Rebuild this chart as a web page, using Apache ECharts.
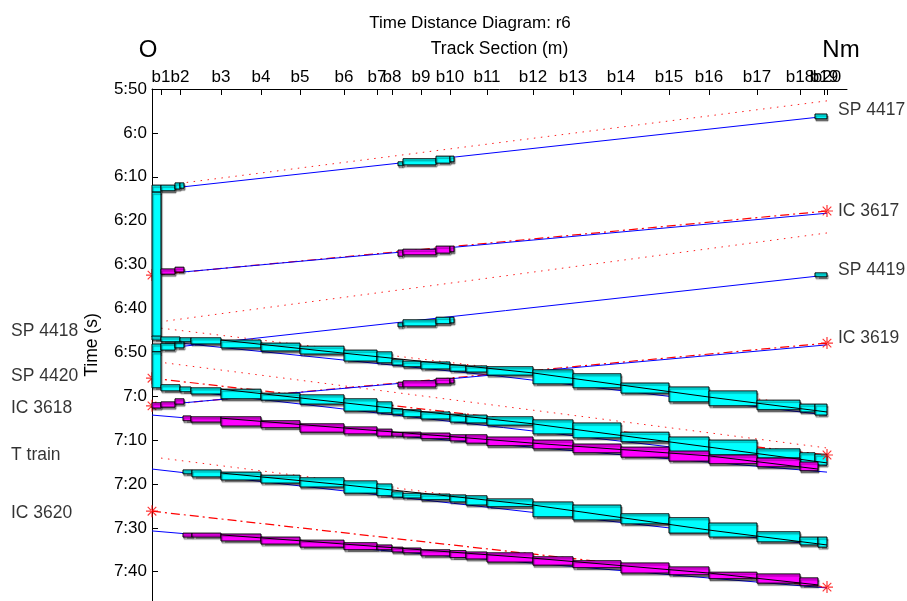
<!DOCTYPE html>
<html><head><meta charset="utf-8">
<script src="https://cdn.jsdelivr.net/npm/echarts@6/dist/echarts.min.js"></script>
<style>html,body{margin:0;padding:0;background:#fff}#c{width:907px;height:601px}</style>
</head><body><div id="c"></div>
<script>
// ---------- axes data ----------
const blockNames = ['b1','b2','b3','b4','b5','b6','b7','b8','b9','b10','b11','b12','b13','b14','b15','b16','b17','b18','b19','b20'];
const blockPos   = [225,700,1725,2725,3700,4800,5625,6000,6725,7450,8375,9525,10525,11725,12925,13925,15125,16200,16800,16875];
const timeTicks  = ['5:50','6:0','6:10','6:20','6:30','6:40','6:50','7:0','7:10','7:20','7:30','7:40'];

// ---------- trains: blocking boxes [fromM, toM, tStart, tEnd], paths [m, time] ----------
const sp4417Boxes = [
  [16575,16875,'5:55.7','5:56.8'],
  [6150,6275,'6:06.6','6:07.5'],[6275,7100,'6:05.9','6:07.3'],[7100,7450,'6:05.3','6:06.9'],[7450,7550,'6:05.3','6:06.6'],
  [0,225,'6:11.9','6:13.5'],[225,575,'6:11.9','6:13.2'],[575,700,'6:11.4','6:12.8'],[700,800,'6:11.4','6:12.6'],
  [0,225,'6:13.5','6:46.5']
];
const sp4417Path = [[16875,'5:56.2'],[775,'6:12.3']];
const sp4417Plan = [[16875,'5:52.7'],[775,'6:11.4']];

const ic3617Boxes = [
  [6150,6275,'6:26.7','6:28.1'],[6275,7100,'6:26.5','6:27.8'],[7100,7450,'6:25.8','6:27.4'],[7450,7550,'6:25.8','6:27.1'],
  [225,575,'6:31.0','6:32.2'],[575,800,'6:30.6','6:31.7']
];
const ic3617Path = [[16875,'6:18.3'],[775,'6:31.7']];
const ic3617Plan = [[16875,'6:17.8'],[0,'6:32.4']];

const sp4419Boxes = [
  [16575,16875,'6:31.9','6:32.8'],
  [6150,6275,'6:43.3','6:44.2'],[6275,7100,'6:42.6','6:44.0'],[7100,7450,'6:42.0','6:43.5'],[7450,7550,'6:42.0','6:43.3'],
  [0,225,'6:48.1','6:49.9'],[225,575,'6:47.9','6:49.5'],[575,800,'6:47.4','6:49.0'],
  [0,225,'6:49.9','6:58.1']
];
const sp4419Path = [[16875,'6:32.4'],[800,'6:48.6']];
const sp4419Plan = [[16875,'6:22.8'],[325,'6:42.9']];

const sp4418Boxes = [
  [0,225,'6:46.3','6:47.2'],[225,700,'6:46.5','6:47.6'],[700,975,'6:46.7','6:47.6'],[975,1725,'6:46.7','6:48.1'],
  [1725,2725,'6:47.2','6:49.0'],[2725,3700,'6:47.9','6:49.7'],[3700,4800,'6:48.6','6:50.4'],[4800,5625,'6:49.5','6:52.0'],
  [5625,6000,'6:49.9','6:52.4'],[6000,6275,'6:51.7','6:52.9'],[6275,6725,'6:52.0','6:53.3'],[6725,7450,'6:52.2','6:53.8'],
  [7450,7850,'6:52.9','6:54.3'],[7850,8375,'6:53.1','6:54.5'],[8375,9525,'6:53.3','6:55.2'],[9525,10525,'6:54.0','6:57.2'],
  [10525,11725,'6:54.9','6:58.1'],[11725,12925,'6:57.0','6:59.3'],[12925,13925,'6:57.9','7:01.3'],[13925,15125,'6:58.8','7:02.2'],
  [15125,16200,'7:00.9','7:03.1'],[16200,16575,'7:01.8','7:03.6'],[16575,16875,'7:01.8','7:04.3']
];
const sp4418Path = [[700,'6:47.9'],[8650,'6:55.4'],[16875,'7:04.3']];
const sp4418Plan = [[225,'6:44.5'],[16875,'7:02.5']];
const sp4418Run  = [[1725,'6:47.2'],[4800,'6:50.2'],[9525,'6:54.7'],[13925,'7:00.2'],[16875,'7:03.6']];

const sp4420Boxes = [
  [225,700,'6:57.4','6:58.8'],[700,975,'6:57.9','6:59.0'],[975,1725,'6:58.1','6:59.5'],[1725,2725,'6:58.4','7:00.6'],
  [2725,3700,'6:59.3','7:00.9'],[3700,4800,'6:59.7','7:01.8'],[4800,5625,'7:00.6','7:03.4'],[5625,6000,'7:01.3','7:03.8'],
  [6000,6275,'7:02.9','7:04.1'],[6275,6725,'7:03.1','7:04.7'],[6725,7450,'7:03.6','7:05.2'],[7450,7850,'7:04.1','7:05.9'],
  [7850,8375,'7:04.3','7:06.1'],[8375,9525,'7:04.7','7:06.6'],[9525,10525,'7:05.4','7:08.6'],[10525,11725,'7:06.1','7:09.5'],
  [11725,12925,'7:08.2','7:10.4'],[12925,13925,'7:09.3','7:12.7'],[13925,15125,'7:10.0','7:13.4'],[15125,16200,'7:12.0','7:14.1'],
  [16200,16575,'7:12.9','7:15.2'],[16575,16875,'7:13.2','7:15.7']
];
const sp4420Path = [[700,'6:58.6'],[16875,'7:15.7']];
const sp4420Plan = [[325,'6:52.4'],[16875,'7:11.8']];
const sp4420Run  = [[1725,'6:58.4'],[4800,'7:01.5'],[9525,'7:06.3'],[13925,'7:11.6'],[16875,'7:15.2']];

const ic3619Boxes = [
  [6150,6275,'6:56.8','6:57.9'],[6275,7100,'6:56.5','6:57.9'],[7100,7450,'6:55.9','6:57.2'],[7450,7550,'6:55.9','6:57.0'],
  [0,225,'7:01.5','7:02.7'],[225,575,'7:01.3','7:02.5'],[575,800,'7:00.6','7:01.8']
];
const ic3619Path = [[16875,'6:48.3'],[800,'7:01.5']];
const ic3619Plan = [[16875,'6:47.9'],[0,'7:02.2']];

const ic3618Boxes = [
  [775,975,'7:04.5','7:05.6'],[975,1725,'7:04.7','7:05.9'],[1725,2725,'7:04.7','7:06.8'],[2725,3700,'7:05.6','7:07.2'],
  [3700,4800,'7:06.3','7:08.2'],[4800,5625,'7:07.0','7:08.6'],[5625,6000,'7:07.5','7:09.1'],[6000,6275,'7:08.2','7:09.1'],
  [6275,6725,'7:08.2','7:09.3'],[6725,7450,'7:08.4','7:09.7'],[7450,7850,'7:08.8','7:10.2'],[7850,8375,'7:08.8','7:10.7'],
  [8375,9525,'7:09.3','7:11.3'],[9525,10525,'7:10.0','7:12.0'],[10525,11725,'7:10.9','7:12.9'],[11725,12925,'7:11.6','7:13.9'],
  [12925,13925,'7:12.5','7:14.8'],[13925,15125,'7:13.4','7:15.4'],[15125,16200,'7:14.1','7:16.1'],[16200,16650,'7:15.0','7:17.0']
];
const ic3618Path = [[0,'7:04.3'],[16875,'7:17.3']];
const ic3618Plan = [[0,'6:55.9'],[16875,'7:13.4']];
const ic3618Run  = [[1725,'7:05.0'],[9525,'7:10.7'],[13925,'7:13.6'],[16650,'7:16.6']];

const tTrainBoxes = [
  [775,1000,'7:16.8','7:17.7'],[1000,1725,'7:16.8','7:18.4'],[1725,2725,'7:17.3','7:19.1'],[2725,3700,'7:18.0','7:19.8'],
  [3700,4800,'7:18.6','7:20.7'],[4800,5625,'7:19.3','7:22.1'],[5625,6000,'7:20.0','7:22.7'],[6000,6275,'7:21.8','7:23.0'],
  [6275,6725,'7:22.1','7:23.2'],[6725,7450,'7:22.3','7:23.6'],[7450,7850,'7:22.5','7:24.1'],[7850,8375,'7:22.7','7:24.8'],
  [8375,9525,'7:23.4','7:25.2'],[9525,10525,'7:24.1','7:27.5'],[10525,11725,'7:24.8','7:28.2'],[11725,12925,'7:26.8','7:29.1'],
  [12925,13925,'7:27.7','7:31.2'],[13925,15125,'7:28.9','7:32.1'],[15125,16200,'7:30.9','7:33.2'],[16200,16650,'7:32.1','7:33.9'],
  [16650,16875,'7:32.1','7:34.4']
];
const tTrainPath = [[0,'7:16.6'],[16875,'7:34.1']];
const tTrainPlan = [[225,'7:14.1'],[16875,'7:33.4']];
const tTrainRun  = [[1725,'7:17.5'],[4800,'7:20.2'],[9525,'7:24.8'],[13925,'7:30.5'],[16875,'7:33.9']];

const ic3620Boxes = [
  [775,1000,'7:31.2','7:32.1'],[1000,1725,'7:31.2','7:32.1'],[1725,2725,'7:31.4','7:33.0'],[2725,3700,'7:32.1','7:33.7'],
  [3700,4800,'7:32.8','7:34.4'],[4800,5625,'7:33.4','7:35.0'],[5625,6000,'7:33.9','7:35.0'],[6000,6275,'7:34.4','7:35.5'],
  [6275,6725,'7:34.6','7:35.7'],[6725,7450,'7:35.0','7:36.4'],[7450,7850,'7:35.2','7:36.8'],[7850,8375,'7:35.5','7:37.1'],
  [8375,9525,'7:35.7','7:37.8'],[9525,10525,'7:36.6','7:38.5'],[10525,11725,'7:37.5','7:39.1'],[11725,12925,'7:38.0','7:40.3'],
  [12925,13925,'7:38.9','7:40.7'],[13925,15125,'7:40.1','7:41.6'],[15125,16200,'7:40.5','7:42.6'],[16200,16650,'7:41.4','7:43.2']
];
const ic3620Path = [[0,'7:30.7'],[16875,'7:43.7']];
const ic3620Plan = [[0,'7:26.2'],[16875,'7:43.5']];
const ic3620Run  = [[1725,'7:31.6'],[9525,'7:36.9'],[13925,'7:40.3'],[16650,'7:43.0']];

// train name labels [text, m, time]
const labelsRight = [['SP 4417',16875,'5:54.8'],['IC 3617',16875,'6:17.8'],['SP 4419',16875,'6:31.2'],['IC 3619',16875,'6:46.7']];
const labelsLeft  = [['SP 4418',0,'6:45.1'],['SP 4420',0,'6:55.4'],['IC 3618',0,'7:02.7'],['T train',0,'7:13.4'],['IC 3620',0,'7:26.6']];

// ---------- build ----------
function T(s){const p=s.split(':');return (+p[0])*3600+parseFloat(p[1])*60;}
const pts = a => a.map(d=>[d[0],T(d[1])]);
const bxs = a => a.map(d=>[d[0],d[1],T(d[2]),T(d[3])]);

const trains = [
  {kind:'SP', boxes:sp4417Boxes, path:sp4417Path, plan:sp4417Plan},
  {kind:'IC', boxes:ic3617Boxes, path:ic3617Path, plan:ic3617Plan},
  {kind:'SP', boxes:sp4419Boxes, path:sp4419Path, plan:sp4419Plan},
  {kind:'SP', boxes:sp4418Boxes, path:sp4418Path, plan:sp4418Plan, run:sp4418Run},
  {kind:'SP', boxes:sp4420Boxes, path:sp4420Path, plan:sp4420Plan, run:sp4420Run},
  {kind:'IC', boxes:ic3619Boxes, path:ic3619Path, plan:ic3619Plan},
  {kind:'IC', boxes:ic3618Boxes, path:ic3618Path, plan:ic3618Plan, run:ic3618Run},
  {kind:'SP', boxes:tTrainBoxes, path:tTrainPath, plan:tTrainPlan, run:tTrainRun},
  {kind:'IC', boxes:ic3620Boxes, path:ic3620Path, plan:ic3620Plan, run:ic3620Run}
];

const FONT = 'Liberation Sans, Arial, sans-serif';
const STAR = 'path://M-6,-0.6L6,-0.6L6,0.6L-6,0.6Z M-0.6,-6L0.6,-6L0.6,6L-0.6,6Z M-4.7,-3.9L3.9,4.7L4.7,3.9L-3.9,-4.7Z M-4.7,3.9L3.9,-4.7L4.7,-3.9L-3.9,4.7Z';

function boxRender(fill){
  return function(params, api){
    const a = api.coord([api.value(0), api.value(2)]);
    const b = api.coord([api.value(1), api.value(3)]);
    return {type:'rect',
      shape:{x:Math.min(a[0],b[0]), y:Math.min(a[1],b[1]), width:Math.abs(b[0]-a[0]), height:Math.abs(b[1]-a[1])},
      style:{fill:fill, stroke:'#000', lineWidth:1, shadowColor:'rgba(0,0,0,0.45)', shadowOffsetX:1, shadowOffsetY:2, shadowBlur:1}};
  };
}

const series = [];
const leftStars = [], rightStars = [];
trains.forEach(tr=>{
  const isIC = tr.kind==='IC';
  series.push({type:'line', data:pts(tr.plan), showSymbol:false, z:1, silent:true,
    lineStyle: isIC ? {color:'#ff0000', width:1.2, type:[9,4,2,4]} : {color:'#ff2020', width:1, type:[1.5,5.5]}});
  series.push({type:'line', data:pts(tr.path), showSymbol:false, z:1, silent:true,
    lineStyle:{color:'#0000ff', width:1}});
  series.push({type:'custom', data:bxs(tr.boxes), renderItem:boxRender(isIC ? '#ff00ff' : '#00ffff'),
    encode:{x:[0,1], y:[2,3]}, z:3, silent:true});
  if (tr.run) series.push({type:'line', data:pts(tr.run), showSymbol:false, z:4, silent:true,
    lineStyle:{color:'#000', width:1}});
  if (isIC) {
    pts(tr.plan).forEach(p=>{ (p[0]===0 ? leftStars : rightStars).push(p); });
  }
});
series.push({type:'scatter', data:leftStars, symbol:STAR, symbolSize:12, itemStyle:{color:'#ff0000'}, z:0, clip:false, silent:true});
series.push({type:'scatter', data:rightStars, symbol:STAR, symbolSize:12, itemStyle:{color:'#ff0000'}, z:5, clip:false, silent:true});
series.push({type:'scatter', data:labelsRight.map(l=>({value:[l[1],T(l[2])], name:l[0]})), symbolSize:0, clip:false, z:6, silent:true,
  label:{show:true, position:'right', distance:11, formatter:p=>p.name, fontSize:17.5, fontFamily:FONT, color:'#000'}});
series.push({type:'scatter', data:labelsLeft.map(l=>({value:[l[1],T(l[2])], name:l[0]})), symbolSize:0, clip:false, z:6, silent:true,
  label:{show:true, position:'inside', align:'left', offset:[-141,0], formatter:p=>p.name, fontSize:17.5, fontFamily:FONT, color:'#000'}});

const yTickVals = timeTicks.map(T);

// The last block labels overlap each other in the reference; ECharts drops overlapping
// edge labels, so b19 and b20 each get their own label-only twin axis.
function labelAxis(values, main){
  const ax = {type:'value', position:'top', min:0, max:17375, splitLine:{show:false},
    axisLabel:{show:true, customValues:values, formatter:v=>blockNames[blockPos.indexOf(v)],
      showMinLabel:true, showMaxLabel:true, hideOverlap:false,
      fontSize:17, color:'#000', fontFamily:FONT, margin:3}};
  if (main) {
    Object.assign(ax, {name:'Track Section (m)', nameLocation:'middle', nameGap:31,
      nameTextStyle:{fontSize:17.5, color:'#000', fontFamily:FONT},
      axisLine:{show:true, onZero:false, lineStyle:{color:'#000', width:1}},
      axisTick:{show:true, inside:true, length:6, customValues:blockPos, lineStyle:{color:'#000'}}});
  } else {
    Object.assign(ax, {axisLine:{show:false, onZero:false}, axisTick:{show:false}});
  }
  return ax;
}

const chart = echarts.init(document.getElementById('c'), null, {renderer:'canvas'});
chart.setOption({
  animation:false,
  backgroundColor:'#fff',
  title:{text:'Time Distance Diagram: r6', left:465, textAlign:'center', top:10,
    textStyle:{fontSize:17, fontWeight:'normal', color:'#000', fontFamily:FONT}},
  grid:{left:152, right:60, top:89, bottom:0, outerBoundsMode:'none', containLabel:false},
  xAxis:[labelAxis(blockPos.slice(0,18), true), labelAxis([blockPos[18]], false), labelAxis([blockPos[19]], false)],
  yAxis:{type:'value', inverse:true, min:21000, max:28000, interval:600,
    name:'Time (s)', nameLocation:'middle', nameGap:51, nameRotate:90,
    nameTextStyle:{fontSize:17.5, color:'#000', fontFamily:FONT},
    axisLine:{show:true, onZero:false, lineStyle:{color:'#000', width:1}},
    axisTick:{show:true, inside:true, length:6, customValues:yTickVals, lineStyle:{color:'#000'}},
    axisLabel:{show:true, customValues:yTickVals, formatter:v=>timeTicks[yTickVals.indexOf(v)],
      showMinLabel:true, showMaxLabel:true, fontSize:17, color:'#000', fontFamily:FONT, margin:5},
    splitLine:{show:false}},
  graphic:[
    {type:'text', x:148, y:50, style:{text:'O', font:'24px '+FONT, textAlign:'center', textVerticalAlign:'middle', fill:'#000'}},
    {type:'text', x:841, y:50, style:{text:'Nm', font:'24px '+FONT, textAlign:'center', textVerticalAlign:'middle', fill:'#000'}}
  ],
  series:series
});
</script>
</body></html>
